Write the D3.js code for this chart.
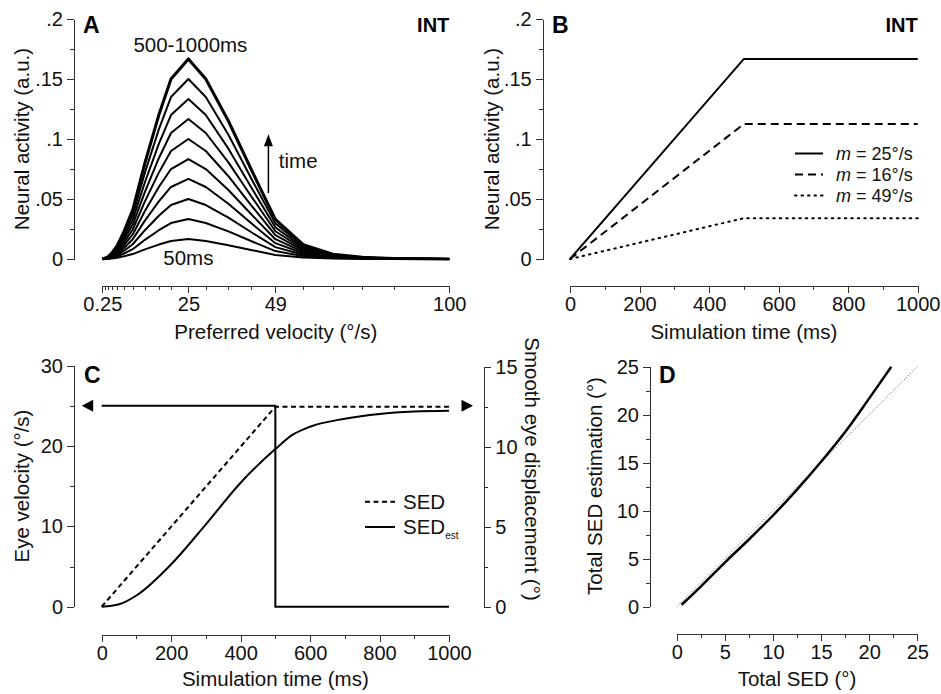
<!DOCTYPE html>
<html>
<head>
<meta charset="utf-8">
<script src="https://cdn.jsdelivr.net/npm/d3@7"></script>
<style>
  body { margin: 0; background: #fff; }
  svg { display: block; font-family: "Liberation Sans", Arial, sans-serif; }
  .axis path, .axis line { stroke: #333; stroke-width: 1; shape-rendering: crispEdges; }
  .axis text { font-size: 20px; fill: #111; font-family: "Liberation Sans", Arial, sans-serif; }
  .title { font-size: 20.5px; fill: #111; }
  .legend { font-size: 18px; fill: #111; }
  .letter { font-size: 23px; font-weight: bold; }
</style>
</head>
<body>
<div id="chart"></div>
<script>
// ---- Panel A: population activity vs preferred velocity ----
const prefVel = [0.25, 1, 2, 3, 4.5, 6.5, 9, 12.5, 16.5, 20, 25, 30, 36.5, 43, 50, 58, 66.5, 75, 84, 100];
// activity of the final (500-1000ms) profile at each preferred velocity
const finalActivity = [0, 0.0007, 0.002, 0.005, 0.011, 0.023, 0.041, 0.080, 0.120, 0.150, 0.1667,
  0.150, 0.115, 0.075, 0.033, 0.012, 0.004, 0.0015, 0.0005, 0];
const snapTimes = [50, 100, 150, 200, 250, 300, 350, 400, 450, 500];
const peakAt25 = [0.0167, 0.0333, 0.05, 0.0667, 0.0833, 0.1, 0.1167, 0.1333, 0.15, 0.1667];
const xTickA = [0.25, 25, 50, 100];
const xTickLabelA = ["0.25", "25", "49", "100"];

// ---- Panel B: activity of three units over time ----
const timeB = [0, 500, 1000];
const unitB = [
  { label: "25°/s", values: [0, 0.1667, 0.1667], dash: null },
  { label: "16°/s", values: [0, 0.1125, 0.1125], dash: "8,5" },
  { label: "49°/s", values: [0, 0.034, 0.034], dash: "1.5,5" },
];

// ---- Panel C: eye velocity and displacement ----
const timeVel = [0, 500, 500, 1000];
const eyeVel = [25, 25, 0, 0];
const timeSed = [0, 500, 1000];
const sed = [0, 12.5, 12.5];
const timeEst = [0, 50, 100, 200, 300, 400, 500, 550, 600, 700, 800, 900, 1000];
const sedEst = [0, 0.15, 0.7, 2.65, 5.15, 7.75, 9.85, 10.75, 11.25, 11.75, 12.05, 12.2, 12.25];

// ---- Panel D: estimated vs actual total SED ----
const totalSed = [0.5, 2.5, 5, 7.5, 10, 12.5, 15, 17.5, 20, 22.3];
const totalSedEst = [0.2, 2.1, 4.6, 7.0, 9.5, 12.2, 15.1, 18.2, 21.7, 25];
const identity = [0, 25];

const W = 941, H = 694;
const svg = d3.select("#chart").append("svg").attr("width", W).attr("height", H);
svg.append("rect").attr("width", W).attr("height", H).attr("fill", "#fff");

function drawAxis(side, pos, scale, major, minor, fmt) {
  const mk = side === "left" ? d3.axisLeft : side === "right" ? d3.axisRight : d3.axisBottom;
  const tr = side === "bottom" ? `translate(0,${pos})` : `translate(${pos},0)`;
  if (minor.length) {
    const m = svg.append("g").attr("class", "axis").attr("transform", tr)
      .call(mk(scale).tickValues(minor).tickSize(4).tickFormat(""));
    m.select(".domain").remove();
  }
  svg.append("g").attr("class", "axis").attr("transform", tr)
    .call(mk(scale).tickValues(major).tickSize(7).tickSizeOuter(0).tickPadding(4).tickFormat(fmt));
}

function text(x, y, str, cls, anchor = "start") {
  return svg.append("text").attr("x", x).attr("y", y).attr("class", cls)
    .attr("text-anchor", anchor).text(str);
}

function yTitle(x, y, str, rot = -90) {
  svg.append("text").attr("class", "title").attr("text-anchor", "middle")
    .attr("transform", `translate(${x},${y}) rotate(${rot})`).text(str);
}

const fmtDot = (d) => (d ? d3.format(".2~f")(d).replace(/^0/, "") : "0");

// ================= Panel A =================
const xA = d3.scaleLinear().domain([0.25, 100]).range([102.3, 449.3]);
const yA = d3.scaleLinear().domain([0, 0.2]).range([259, 19]);

drawAxis("left", 74, yA, [0, 0.05, 0.1, 0.15, 0.2], [0.025, 0.075, 0.125, 0.175], fmtDot);
drawAxis("bottom", 286, xA, xTickA, prefVel.filter((v) => !xTickA.includes(v)),
  (d, i) => xTickLabelA[i]);

const lineA = d3.line().x((d) => xA(d[0])).y((d) => yA(d[1]));
const last = peakAt25[peakAt25.length - 1];
snapTimes.forEach((t, k) => {
  const pts = prefVel.map((v, i) => [v, finalActivity[i] * peakAt25[k] / last]);
  svg.append("path").datum(pts).attr("d", lineA).attr("fill", "none")
    .attr("stroke", "#000").attr("stroke-linejoin", "round")
    .attr("stroke-width", k === snapTimes.length - 1 ? 3 : 2);
});

text(xA(25) + 2, 52, "500-1000ms", "title", "middle");
text(xA(25), 265, "50ms", "title", "middle");
// time arrow
svg.append("line").attr("x1", xA(48)).attr("x2", xA(48)).attr("y1", yA(0.055)).attr("y2", yA(0.098))
  .attr("stroke", "#000").attr("stroke-width", 1.5);
svg.append("path").attr("fill", "#000")
  .attr("d", `M${xA(48)},${yA(0.104)} L${xA(48) - 4.5},${yA(0.094)} L${xA(48) + 4.5},${yA(0.094)} Z`);
text(xA(51), yA(0.0755), "time", "title");

text(83, 33, "A", "letter");
text(xA(100), 32, "INT", "letter", "end").style("font-size", "20px");
yTitle(28.5, 139, "Neural activity (a.u.)");
text((xA(0.25) + xA(100)) / 2, 339, "Preferred velocity (°/s)", "title", "middle");

// ================= Panel B =================
const xB = d3.scaleLinear().domain([0, 1000]).range([570, 917.7]);
const yB = d3.scaleLinear().domain([0, 0.2]).range([259, 19]);

drawAxis("left", 542.7, yB, [0, 0.05, 0.1, 0.15, 0.2], [0.025, 0.075, 0.125, 0.175], fmtDot);
drawAxis("bottom", 286, xB, [0, 200, 400, 600, 800, 1000], [100, 300, 500, 700, 900], d3.format("d"));

const lineB = d3.line().x((d, i) => xB(timeB[i])).y((d) => yB(d));
unitB.forEach((u, i) => {
  const dotted = u.dash && u.dash.startsWith("1.5");
  svg.append("path").datum(u.values).attr("d", lineB).attr("fill", "none")
    .attr("stroke", "#000").attr("stroke-width", 2)
    .attr("stroke-linecap", dotted ? "round" : "butt")
    .attr("stroke-dasharray", u.dash);
  const ly = 153.5 + i * 21;
  svg.append("line").attr("x1", 795).attr("x2", 823).attr("y1", ly).attr("y2", ly)
    .attr("stroke", "#000").attr("stroke-width", 2)
    .attr("stroke-linecap", dotted ? "round" : "butt")
    .attr("stroke-dasharray", u.dash);
  const t = svg.append("text").attr("class", "legend").attr("x", 836).attr("y", ly + 6.5);
  t.append("tspan").style("font-style", "italic").text("m");
  t.append("tspan").text(" = " + u.label);
});

text(552, 33, "B", "letter");
text(xB(1000), 32, "INT", "letter", "end").style("font-size", "20px");
yTitle(499, 139, "Neural activity (a.u.)");
text((xB(0) + xB(1000)) / 2, 339, "Simulation time (ms)", "title", "middle");

// ================= Panel C =================
const xC = d3.scaleLinear().domain([0, 1000]).range([101.7, 449]);
const yCL = d3.scaleLinear().domain([0, 30]).range([606.7, 365.7]);
const yCR = d3.scaleLinear().domain([0, 15]).range([606.7, 366.7]);

drawAxis("left", 74, yCL, [0, 10, 20, 30], [5, 15, 25], d3.format("d"));
drawAxis("right", 484.3, yCR, [0, 5, 10, 15], [2.5, 7.5, 12.5], d3.format("d"));
drawAxis("bottom", 635, xC, [0, 200, 400, 600, 800, 1000], [100, 300, 500, 700, 900], d3.format("d"));

svg.append("path").datum(eyeVel)
  .attr("d", d3.line().x((d, i) => xC(timeVel[i])).y((d) => yCL(d)))
  .attr("fill", "none").attr("stroke", "#000").attr("stroke-width", 2);
svg.append("path").datum(sed)
  .attr("d", d3.line().x((d, i) => xC(timeSed[i])).y((d) => yCR(d)))
  .attr("fill", "none").attr("stroke", "#000").attr("stroke-width", 2).attr("stroke-dasharray", "5,3.5");
svg.append("path").datum(sedEst)
  .attr("d", d3.line().curve(d3.curveMonotoneX).x((d, i) => xC(timeEst[i])).y((d) => yCR(d)))
  .attr("fill", "none").attr("stroke", "#000").attr("stroke-width", 2);

// axis-pointing arrows
const ay = yCL(25);
svg.append("path").attr("fill", "#000")
  .attr("d", `M${xC(0) - 20},${ay} L${xC(0) - 8.5},${ay - 6} L${xC(0) - 8.5},${ay + 6} Z`);
svg.append("path").attr("fill", "#000")
  .attr("d", `M${xC(1000) + 24},${ay} L${xC(1000) + 12.5},${ay - 6} L${xC(1000) + 12.5},${ay + 6} Z`);

// legend C
svg.append("line").attr("x1", 365).attr("x2", 395).attr("y1", 501.7).attr("y2", 501.7)
  .attr("stroke", "#000").attr("stroke-width", 2).attr("stroke-dasharray", "5,3.5");
svg.append("line").attr("x1", 365).attr("x2", 395).attr("y1", 527).attr("y2", 527)
  .attr("stroke", "#000").attr("stroke-width", 2);
text(403, 509, "SED", "title");
const est = svg.append("text").attr("class", "title").attr("x", 403).attr("y", 534);
est.append("tspan").text("SED");
est.append("tspan").attr("dy", 5).style("font-size", "10px").text("est");

text(84, 383, "C", "letter");
yTitle(29, 486, "Eye velocity (°/s)");
yTitle(525, 469, "Smooth eye displacement (°)", 90);
text((xC(0) + xC(1000)) / 2, 686, "Simulation time (ms)", "title", "middle");

// ================= Panel D =================
const xD = d3.scaleLinear().domain([0, 25]).range([676.7, 917.3]);
const yD = d3.scaleLinear().domain([0, 25]).range([606.7, 366.7]);

drawAxis("left", 650, yD, [0, 5, 10, 15, 20, 25], [2.5, 7.5, 12.5, 17.5, 22.5], d3.format("d"));
drawAxis("bottom", 634, xD, [0, 5, 10, 15, 20, 25], [2.5, 7.5, 12.5, 17.5, 22.5], d3.format("d"));

svg.append("path").datum(identity)
  .attr("d", d3.line().x((d) => xD(d)).y((d) => yD(d)))
  .attr("fill", "none").attr("stroke", "#555").attr("stroke-width", 1).attr("stroke-dasharray", "1,2");
svg.append("path").datum(totalSedEst)
  .attr("d", d3.line().curve(d3.curveCatmullRom).x((d, i) => xD(totalSed[i])).y((d) => yD(d)))
  .attr("fill", "none").attr("stroke", "#000").attr("stroke-width", 2.5);

text(659, 383, "D", "letter");
yTitle(602, 486, "Total SED estimation (°)");
text((xD(0) + xD(25)) / 2, 686, "Total SED (°)", "title", "middle");
</script>
</body>
</html>
